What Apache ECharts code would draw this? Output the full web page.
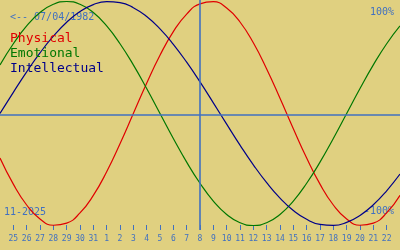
<!DOCTYPE html>
<html>
<head>
<meta charset="utf-8">
<script src="https://cdn.jsdelivr.net/npm/echarts@6/dist/echarts.min.js"></script>
<style>
html,body{margin:0;padding:0;background:#e0d080;}
#c{width:400px;height:250px;}
</style>
</head>
<body>
<div id="c"></div>
<script>
// Days shown: Oct 24 .. Nov 23 (2025)
var dayLabels = ['24','25','26','27','28','29','30','31','1','2','3','4','5','6','7','8','9','10','11','12','13','14','15','16','17','18','19','20','21','22','23'];
// Biorhythm values (%), one per day
var physical = [-39.8,-63.1,-81.7,-94.2,-99.8,-97.9,-88.8,-73.1,-52.0,-27.0,0,27.0,52.0,73.1,88.8,97.9,99.8,94.2,81.7,63.1,39.8,13.6,-13.6,-39.8,-63.1,-81.7,-94.2,-99.8,-97.9,-88.8,-73.1];
var emotional = [43.4,62.3,78.2,90.1,97.5,100,97.5,90.1,78.2,62.3,43.4,22.3,0,-22.3,-43.4,-62.3,-78.2,-90.1,-97.5,-100,-97.5,-90.1,-78.2,-62.3,-43.4,-22.3,0,22.3,43.4,62.3,78.2];
var intellectual = [0,18.9,37.2,54.1,69.0,81.5,91.0,97.2,99.9,99.0,94.5,86.6,75.6,61.8,45.8,28.2,9.5,-9.5,-28.2,-45.8,-61.8,-75.6,-86.6,-94.5,-99.0,-99.9,-97.2,-91.0,-81.5,-69.0,-54.1];
var seriesNames = ['Physical','Emotional','Intellectual'];
var todayIndex = 15;
var birthText = '<-- 07/04/1982';
var monthText = '11-2025';
var topText = '100%';
var bottomText = '-100%';

var FONT = 'DejaVu Sans Mono';
var BLUE = '#4070c0';
var colors = ['#e00000','#007700','#000088'];

var chart = echarts.init(document.getElementById('c'), null, {renderer:'canvas'});
chart.setOption({
  animation:false,
  backgroundColor:'#e0d080',
  grid:{left:0,right:0,top:0,height:230},
  xAxis:{
    type:'category',
    data:dayLabels,
    boundaryGap:false,
    axisLine:{show:false,onZero:false},
    axisTick:{show:true,inside:true,length:5,lineStyle:{color:BLUE,width:1},
      interval:function(i){return i>0 && i<dayLabels.length-1;}},
    axisLabel:{margin:5,fontFamily:FONT,fontSize:8,color:BLUE,
      interval:function(i){return i>0 && i<dayLabels.length-1;}},
    splitLine:{show:false}
  },
  yAxis:{type:'value',min:-104.02,max:101.34,show:false,splitLine:{show:false}},
  legend:{
    orient:'vertical',left:0,top:27,itemWidth:0,itemHeight:13,itemGap:2,icon:'none',
    selectedMode:false,
    data:seriesNames.map(function(n,i){return {name:n,textStyle:{color:colors[i]}};}),
    textStyle:{fontFamily:FONT,fontSize:13}
  },
  graphic:[
    {type:'text',left:10,top:12.5,style:{text:birthText,font:'10px "DejaVu Sans Mono"',fill:BLUE}},
    {type:'text',right:6,top:7,style:{text:topText,font:'10px "DejaVu Sans Mono"',fill:BLUE}},
    {type:'text',left:4,top:207.5,style:{text:monthText,font:'10px "DejaVu Sans Mono"',fill:BLUE}},
    {type:'text',right:6,top:206.5,style:{text:bottomText,font:'10px "DejaVu Sans Mono"',fill:BLUE}}
  ],
  series:[
    {name:seriesNames[0],type:'line',data:physical,smooth:true,showSymbol:false,symbol:'none',
      lineStyle:{color:colors[0],width:1.2},itemStyle:{color:colors[0]},
      markLine:{silent:true,symbol:'none',label:{show:false},
        lineStyle:{color:BLUE,width:1.6,type:'solid'},
        data:[{yAxis:-1.5},{xAxis:todayIndex}]}},
    {name:seriesNames[1],type:'line',data:emotional,smooth:true,showSymbol:false,symbol:'none',
      lineStyle:{color:colors[1],width:1.2},itemStyle:{color:colors[1]}},
    {name:seriesNames[2],type:'line',data:intellectual,smooth:true,showSymbol:false,symbol:'none',
      lineStyle:{color:colors[2],width:1.2},itemStyle:{color:colors[2]}}
  ]
});
</script>
</body>
</html>
